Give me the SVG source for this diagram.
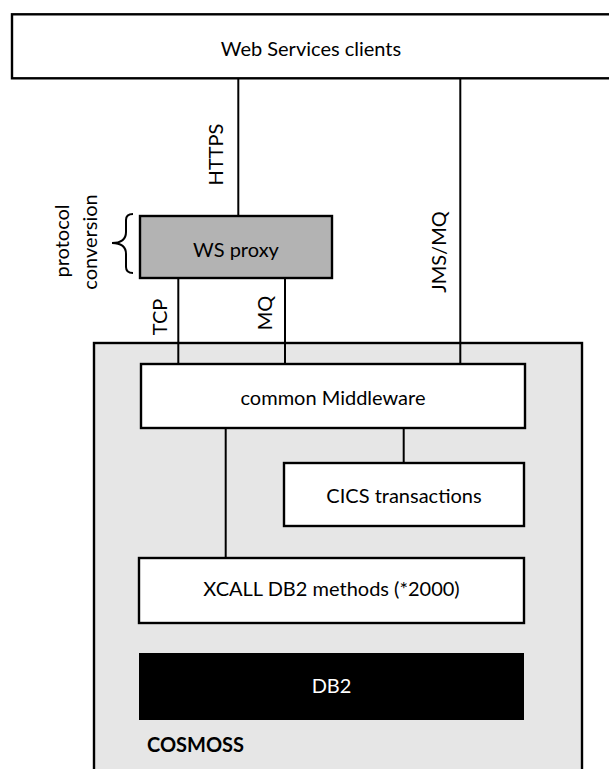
<svg xmlns="http://www.w3.org/2000/svg" width="609" height="769" viewBox="0 0 609 769">
<style>
text{font-family:Lato,"Open Sans","Liberation Sans",sans-serif;font-size:20px;fill:#000}
.c{text-anchor:middle}
.box{fill:#fff;stroke:#000;stroke-width:2.4}
.ln{stroke:#000;stroke-width:2;fill:none}
</style>
<rect width="609" height="769" fill="#fff"/>
<g id="cosmoss">
<rect x="94" y="343" width="488" height="440" fill="#e6e6e6" stroke="#000" stroke-width="2.4"/>
<text x="147" y="752" style="font-weight:bold">COSMOSS</text>
</g>
<g id="connectors">
<line class="ln" x1="238.3" y1="78" x2="238.3" y2="216"/>
<line class="ln" x1="460.3" y1="78" x2="460.3" y2="364"/>
<line class="ln" x1="178.3" y1="278" x2="178.3" y2="364"/>
<line class="ln" x1="285" y1="278" x2="285" y2="364"/>
<line class="ln" x1="225.7" y1="428" x2="225.7" y2="558"/>
<line class="ln" x1="403.7" y1="428" x2="403.7" y2="463"/>
<text class="c" transform="translate(223,154.5) rotate(-90)">HTTPS</text>
<text class="c" transform="translate(446,252) rotate(-90)">JMS/MQ</text>
<text class="c" transform="translate(167,317) rotate(-90)">TCP</text>
<text class="c" transform="translate(272,313) rotate(-90)">MQ</text>
</g>
<g id="clients">
<rect class="box" x="12" y="14.3" width="620" height="64"/>
<text class="c" x="311" y="56">Web Services clients</text>
</g>
<g id="proxy">
<rect x="140" y="216" width="192" height="62" fill="#b3b3b3" stroke="#000" stroke-width="2.4"/>
<text class="c" x="236" y="256.7">WS proxy</text>
<path class="ln" d="M133,214 Q126,214 126,220 L126,232 Q126,243 112,243 Q126,243 126,254 L126,267 Q126,273 133,273"/>
<text class="c" transform="translate(69,241) rotate(-90)">protocol</text>
<text class="c" transform="translate(97,242) rotate(-90)">conversion</text>
</g>
<g id="middleware">
<rect class="box" x="141" y="364" width="384" height="64"/>
<text class="c" x="333" y="405">common Middleware</text>
</g>
<g id="cics">
<rect class="box" x="284" y="463" width="240" height="63"/>
<text class="c" x="404" y="503.3">CICS transactions</text>
</g>
<g id="xcall">
<rect class="box" x="139" y="558" width="385" height="65"/>
<text class="c" x="331.5" y="596">XCALL DB2 methods (*2000)</text>
</g>
<g id="db2">
<rect x="139" y="653" width="385" height="67" fill="#000"/>
<text class="c" x="331.5" y="693.3" style="fill:#fff">DB2</text>
</g>
</svg>
